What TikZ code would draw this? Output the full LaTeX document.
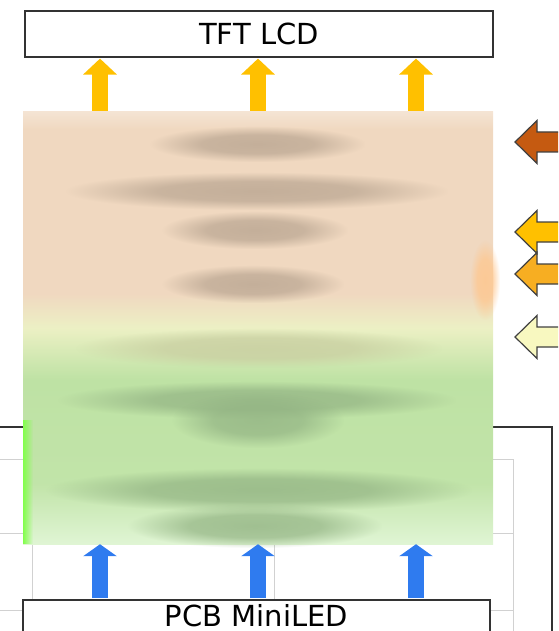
\documentclass[tikz,border=0pt]{standalone}
\usepackage{fontspec}
\setmainfont{DejaVu Sans}
\usetikzlibrary{arrows.meta,positioning,fadings}

\definecolor{lcdgold}{HTML}{FFC000}
\definecolor{ledblue}{HTML}{2F7BEF}
\definecolor{framegray}{HTML}{333333}
\definecolor{peach}{HTML}{F0D8C0}
\definecolor{paleyel}{HTML}{ECF0C4}
\definecolor{leafgreen}{HTML}{BEE2A4}
\definecolor{softgreen}{HTML}{E0F5D4}
\definecolor{rust}{HTML}{C55A11}
\definecolor{amber}{HTML}{F7AE22}
\definecolor{cream}{HTML}{F8F8C0}
\definecolor{tanblur}{HTML}{B9A591}
\definecolor{olivblur}{HTML}{C8CDA0}
\definecolor{greenblur}{HTML}{93B484}

\pgfdeclareverticalshading{stackshade}{100bp}{
  color(0bp)=(softgreen); color(25bp)=(softgreen);
  color(32bp)=(leafgreen!90!softgreen); color(44bp)=(leafgreen);
  color(50bp)=(paleyel); color(54bp)=(peach); color(73bp)=(peach);
  color(75bp)=(peach!70!white); color(100bp)=(peach!70!white)}

\pgfdeclareradialshading{blobshade}{\pgfpointorigin}{
  color(0bp)=(white!80!black); color(13bp)=(white!70!black);
  color(25bp)=(black); color(50bp)=(black)}
\pgfdeclarefading{blob}{\pgfuseshading{blobshade}}

\tikzset{
  panel/.style={draw=framegray, line width=1.6pt, fill=white, inner sep=0pt,
    font=\fontsize{29}{32}\selectfont},
  uparrow/.style={line width=16pt, -{Triangle[width=33pt,length=16pt]}},
  sidearrow/.style={draw=black!75, line width=1.2pt, line join=miter},
  gridline/.style={draw=black!18, line width=0.8pt},
}

\begin{document}
\begin{tikzpicture}[x=1pt,y=-1pt]
\useasboundingbox (0,0) rectangle (558,631);
\clip (0,0) rectangle (558,631);

% table lines behind
\foreach \y in {459,533,610}
  \draw[gridline] (0,\y) -- (513,\y);
\foreach \x in {32,274,513}
  \draw[gridline] (\x,459) -- (\x,640);
\draw[framegray, line width=1.4pt] (0,427) -- (552,427) -- (552,640);

% panels
\node[panel, minimum width=468pt, minimum height=46pt] (lcd) at (259,34) {TFT LCD};
\node[panel, anchor=north, minimum width=467pt, text height=27pt, text depth=20pt]
  (pcb) at (256.5,599) {PCB MiniLED};

\foreach \x [count=\i] in {100,258,416}
  \coordinate (c\i) at (\x,0);

% light to the lcd
\foreach \i in {1,2,3}
  \draw[uparrow, lcdgold, shorten >=0.8pt] (c\i |- 0,112) -- (c\i |- lcd.south);

% layer stack
\node[draw=none, inner sep=0pt, minimum width=470pt, minimum height=432pt,
  shading=stackshade] (stack) at (258,328) {};
\fill[green!60!lime!70!white, path fading=east] (23,420) rectangle (33,544);
\fill[orange!45, path fading=blob] (470,240) rectangle (500,320);
\foreach \x/\y/\w/\h/\c in {
  150/126/215/36/tanblur,
  66/172/382/38/tanblur,
  162/211/186/38/tanblur,
  162/265/182/38/tanblur,
  76/328/366/40/olivblur,
  58/381/398/38/greenblur,
  172/392/172/56/greenblur,
  46/468/426/44/greenblur,
  128/504/254/44/greenblur}
  \fill[\c, path fading=blob] (\x,\y) rectangle ++(\w,\h);

% light from the leds
\foreach \i in {1,2,3}
  \draw[uparrow, ledblue, -{Triangle[width=33pt,length=12pt]}, shorten <=0.8pt]
    (c\i |- pcb.north) -- (c\i |- stack.south);

% side inputs
\foreach \y/\c in {142/rust, 232/lcdgold, 274/amber, 337/cream}{
  \coordinate (tip) at (515,\y);
  \draw[sidearrow, fill=\c] (tip) -- ++(22,-21.5) -- ++(0,11.5) -- ++(40,0)
    -- ++(0,20) -- ++(-40,0) -- ++(0,11.5) -- cycle;
}
\end{tikzpicture}
\end{document}
